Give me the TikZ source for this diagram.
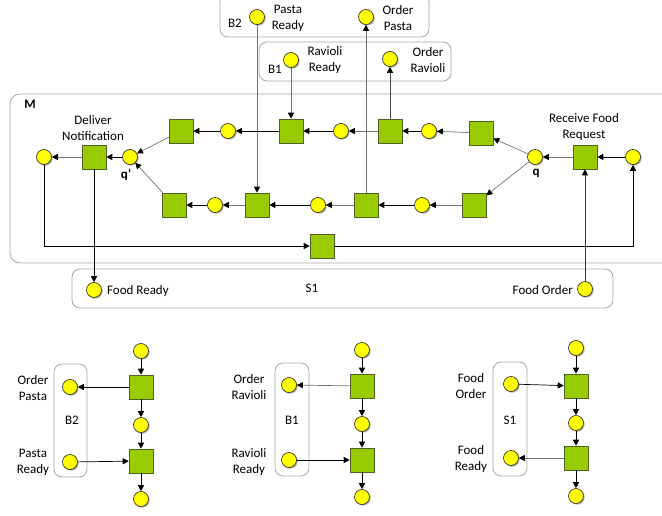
\documentclass[tikz,border=0pt]{standalone}
\usepackage{fontspec}
\setmainfont{Carlito}
\usetikzlibrary{arrows.meta,shadows}
\definecolor{trgreen}{HTML}{99CC00}
\definecolor{trborder}{HTML}{4F6228}
\definecolor{plyellow}{HTML}{FFFF00}
\definecolor{boxgrey}{HTML}{A6A6A6}
\tikzset{
  shade3/.style={drop shadow={shadow xshift=1.2pt, shadow yshift=-1.2pt, fill=black, opacity=0.3}},
  place/.style={circle, draw=black!85, fill=plyellow, minimum size=15pt, inner sep=0pt, line width=0.6pt, shade3},
  trans/.style={rectangle, draw=trborder, fill=trgreen, minimum size=24pt, inner sep=0pt, line width=0.6pt, shade3},
  arc/.style={-{Triangle[length=6pt,width=6pt,color=black]}, line width=0.7pt, draw=black},
  arcg/.style={arc, draw=black!55},
  grp/.style={draw=boxgrey, rounded corners=8pt, line width=0.8pt},
  lbl/.style={font=\fontsize{13}{16}\selectfont, align=center, inner sep=0pt},
}
\begin{document}
\begin{tikzpicture}[x=1pt, y=-1pt]
\useasboundingbox (0,0) rectangle (662,516);
\clip (0,0) rectangle (662,516);

% group boxes
\draw[grp, rounded corners=10pt] (10,94) rectangle (690,263);
\draw[grp] (220,-6) rectangle (429,37);
\draw[grp] (259,42) rectangle (451,81);
\draw[grp] (72,269) rectangle (613,308);

% module M
\node[lbl, font=\fontsize{13}{16}\selectfont\bfseries] (mlab) at (30,104) {M};
\node[place] (pout) at (44,157) {};
\node[trans] (deliver) at (94,157) {};
\node[place] (qp) at (130,157) {};
\node[lbl] (deliverlab) at (93,128) {Deliver\\Notification};
\node[lbl, font=\fontsize{13}{16}\selectfont\bfseries] (qplab) at (126,175) {q’};

\node[trans] (u1) at (181,131) {};
\node[place] (u2) at (228,131) {};
\node[trans] (u3) at (291,131) {};
\node[place] (u4) at (341,131) {};
\node[trans] (u5) at (390,131) {};
\node[place] (u6) at (429,131) {};
\node[trans] (u7) at (481,133) {};

\node[trans] (l1) at (174,205) {};
\node[place] (l2) at (215,205) {};
\node[trans] (l3) at (257,205) {};
\node[place] (l4) at (318,205) {};
\node[trans] (l5) at (366,205) {};
\node[place] (l6) at (422,205) {};
\node[trans] (l7) at (474,205) {};

\node[place] (q) at (535,157) {};
\node[trans] (receive) at (585,157) {};
\node[place] (pin) at (633,157) {};
\node[lbl] (receivelab) at (584,127) {Receive Food\\Request};
\node[lbl, font=\fontsize{13}{16}\selectfont\bfseries] (qlab) at (536,173) {q};

\node[trans] (tbot) at (322,246) {};

% B2 and B1
\node[lbl] (b2lab) at (235,23) {B2};
\node[place] (pastaready) at (257,17) {};
\node[lbl] (pastareadylab) at (288,18) {Pasta\\Ready};
\node[place] (orderpasta) at (366,17) {};
\node[lbl] (orderpastalab) at (398,18) {Order\\Pasta};

\node[lbl] (b1lab) at (275,69) {B1};
\node[place] (ravready) at (291,60) {};
\node[lbl] (ravreadylab) at (325,60) {Ravioli\\Ready};
\node[place] (orderrav) at (390,59) {};
\node[lbl] (orderravlab) at (428,60) {Order\\Ravioli};

% S1
\node[place] (foodready) at (94,290) {};
\node[lbl, anchor=west] (foodreadylab) at (107,291) {Food Ready};
\node[lbl] (s1lab) at (312,288) {S1};
\node[place] (foodorder) at (585,289) {};
\node[lbl, anchor=east] (foodorderlab) at (573,290) {Food Order};

% arcs of M
\draw[arcg] (deliver) -- (pout);
\draw[arc] (qp) -- (deliver);
\draw[arcg] (u1) -- (qp);
\draw[arcg] (l1) -- (qp);
\draw[arc] (u2) -- (u1);
\draw[arc] (u3) -- (u2);
\draw[arc] (u4) -- (u3);
\draw[arcg] (u5) -- (u4);
\draw[arc] (u6) -- (u5);
\draw[arcg] (u7) -- (u6);
\draw[arc] (l2) -- (l1);
\draw[arcg] (l3) -- (l2);
\draw[arc] (l4) -- (l3);
\draw[arcg] (l5) -- (l4);
\draw[arc] (l6) -- (l5);
\draw[arcg] (l7) -- (l6);
\draw[arcg] (q) -- (u7);
\draw[arcg] (q) -- (l7);
\draw[arcg] (receive) -- (q);
\draw[arc] (pin) -- (receive);
\draw[arc] (pout) |- (tbot);
\draw[arc] (tbot) -| (pin);

% links to B1, B2, S1
\draw[arcg] (pastaready) -- (l3);
\draw[arcg] (l5) -- (orderpasta);
\draw[arcg] (ravready) -- (u3);
\draw[arc, draw=black!70] (u5) -- (orderrav);
\draw[arc] (deliver) -- (foodready);
\draw[arc, draw=black!80] (foodorder) -- (receive);

% ---- B2 process
\draw[grp] (54,364) rectangle (87,477);
\node[place] (a1) at (141,351) {};
\node[trans] (a2) at (141,387) {};
\node[place] (a3) at (141,425) {};
\node[trans] (a4) at (141,461) {};
\node[place] (a5) at (141,499) {};
\node[place] (aord) at (70,387) {};
\node[place] (ardy) at (70,462) {};
\node[lbl] (aordlab) at (33,388) {Order\\Pasta};
\node[lbl] (ab2) at (72,420) {B2};
\node[lbl] (ardylab) at (33,462) {Pasta\\Ready};
\draw[arc] (a1) -- (a2);
\draw[arc] (a2) -- (a3);
\draw[arc] (a3) -- (a4);
\draw[arc] (a4) -- (a5);
\draw[arc] (a2) -- (aord);
\draw[arc] (ardy) -- (a4);

% ---- B1 process
\draw[grp] (275,363) rectangle (309,476);
\node[place] (b1) at (362,350) {};
\node[trans] (b2) at (362,386) {};
\node[place] (b3) at (362,424) {};
\node[trans] (b4) at (362,460) {};
\node[place] (b5) at (362,497) {};
\node[place] (bord) at (289,385) {};
\node[place] (brdy) at (289,460) {};
\node[lbl] (bordlab) at (249,387) {Order\\Ravioli};
\node[lbl] (bb1) at (292,420) {B1};
\node[lbl] (brdylab) at (249,462) {Ravioli\\Ready};
\draw[arc] (b1) -- (b2);
\draw[arc] (b2) -- (b3);
\draw[arc] (b3) -- (b4);
\draw[arc] (b4) -- (b5);
\draw[arcg] (b2) -- (bord);
\draw[arc] (brdy) -- (b4);

% ---- S1 process
\draw[grp] (493,362) rectangle (527,476);
\node[place] (c1) at (576,348) {};
\node[trans] (c2) at (576,386) {};
\node[place] (c3) at (576,423) {};
\node[trans] (c4) at (576,458) {};
\node[place] (c5) at (576,496) {};
\node[place] (cord) at (511,384) {};
\node[place] (crdy) at (511,458) {};
\node[lbl] (cordlab) at (471,386) {Food\\Order};
\node[lbl] (cs1) at (510,420) {S1};
\node[lbl] (crdylab) at (471,459) {Food\\Ready};
\draw[arc] (c1) -- (c2);
\draw[arc] (c2) -- (c3);
\draw[arc] (c3) -- (c4);
\draw[arc] (c4) -- (c5);
\draw[arc] (cord) -- (c2);
\draw[arcg] (c4) -- (crdy);
\end{tikzpicture}
\end{document}
